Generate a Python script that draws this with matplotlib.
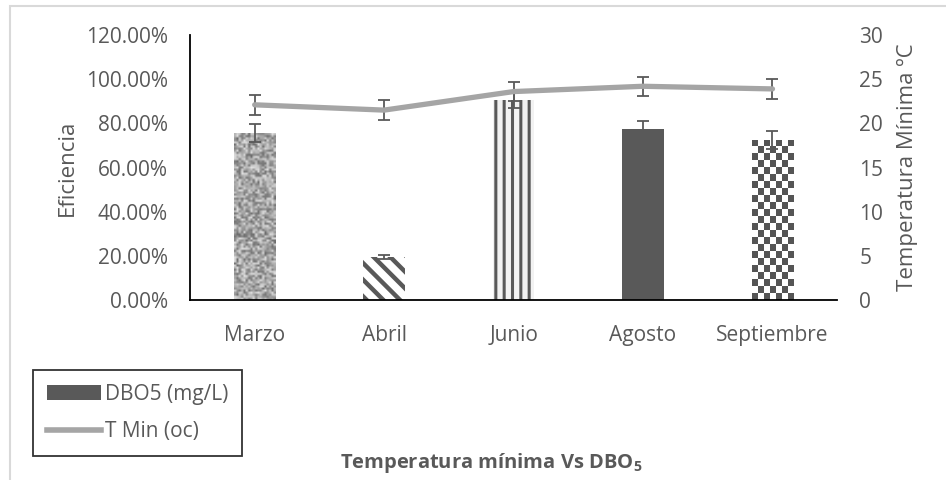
import numpy as np
import matplotlib.pyplot as plt
from matplotlib.patches import Patch, Rectangle
from matplotlib.lines import Line2D
from matplotlib.ticker import FuncFormatter

plt.rcParams['font.family'] = ['Open Sans', 'DejaVu Sans']
plt.rcParams['mathtext.fontset'] = 'custom'
plt.rcParams['mathtext.rm'] = 'Open Sans'
plt.rcParams['mathtext.bf'] = 'Open Sans:bold'

# datos
meses = ['Marzo', 'Abril', 'Junio', 'Agosto', 'Septiembre']
eficiencia = [0.755, 0.195, 0.905, 0.775, 0.725]
err_efic = [0.04, 0.01, 0.035, 0.037, 0.04]
t_min = [22.1, 21.5, 23.6, 24.2, 23.9]
err_t = [1.1, 1.1, 1.1, 1.1, 1.1]

gris = '#595959'
x = np.arange(len(meses))

fig = plt.figure(figsize=(9.46, 4.8), dpi=100)
ax = fig.add_axes([0.2008, 0.375, 0.6842, 0.552])

# estilos de relleno de cada barra: (fondo, trama, color trama, grosor trama)
estilos = [('#bdbdbd', None, gris, 1),
           ('white', '\\\\', gris, 3.2),
           ('#f2f2f2', '||', gris, 2.2),
           (gris, None, gris, 1),
           ('white', None, gris, 1)]
bars = []
for xi, v, (fc, h, hc, hlw) in zip(x, eficiencia, estilos):
    with plt.rc_context({'hatch.linewidth': hlw}):
        b = ax.bar(xi, v, width=0.32, facecolor=fc, edgecolor=hc, linewidth=0,
                   hatch=h, zorder=2)[0]
    bars.append(b)

# textura tipo granito para Marzo
rng = np.random.default_rng(7)
tex = rng.random((80, 18))
b0 = bars[0]
im = ax.imshow(tex, cmap='gray', vmin=-0.9, vmax=1.25, aspect='auto', interpolation='bilinear',
               extent=(b0.get_x(), b0.get_x() + b0.get_width(), 0, b0.get_height()), zorder=2.5)
im.set_clip_path(b0)

# tablero para Septiembre
b4 = bars[4]
filas = int(round(b4.get_height() / 0.032))
tablero = (np.add.outer(np.arange(filas), np.arange(7)) % 2).astype(float)
im2 = ax.imshow(tablero, cmap='gray', vmin=-0.5, vmax=1, aspect='auto', interpolation='nearest',
                extent=(b4.get_x(), b4.get_x() + b4.get_width(), 0, b4.get_height()), zorder=2.5)
im2.set_clip_path(b4)

ax.errorbar(x, eficiencia, yerr=err_efic, fmt='none', ecolor=gris, elinewidth=1.3,
            capsize=4, capthick=1.3, zorder=3)

ax.set_xlim(-0.5, 4.5)
ax.set_ylim(0, 1.2)
ax.set_yticks(np.arange(0, 1.21, 0.2))
ax.yaxis.set_major_formatter(FuncFormatter(lambda v, p: f'{v*100:.2f}%'))
ax.set_xticks(x)
ax.set_xticklabels(meses)
for s in ['top', 'right']:
    ax.spines[s].set_visible(False)
ax.spines['left'].set_linewidth(1.3)
ax.spines['bottom'].set_linewidth(1.3)
ax.tick_params(axis='y', length=0, pad=16, labelsize=15, labelcolor=gris)
ax.tick_params(axis='x', length=0, pad=18, labelsize=15, labelcolor=gris)
ax.set_ylabel('Eficiencia', fontsize=16, color=gris, labelpad=6)

ax2 = ax.twinx()
ax2.plot(x, t_min, color='#a5a5a5', lw=3.8, solid_capstyle='round', zorder=2)
ax2.errorbar(x, t_min, yerr=err_t, fmt='none', ecolor=gris, elinewidth=1.3,
             capsize=4, capthick=1.3, zorder=1)
ax2.set_ylim(0, 30)
ax2.set_yticks(range(0, 31, 5))
for s in ['top', 'right', 'left', 'bottom']:
    ax2.spines[s].set_visible(False)
ax2.tick_params(axis='y', length=0, pad=16, labelsize=15, labelcolor=gris)
ax2.set_ylabel('Temperatura Mínima ºC', fontsize=16, color=gris, labelpad=10)

# leyenda
handles = [Patch(facecolor=gris, edgecolor='none'),
           Line2D([], [], color='#a5a5a5', lw=4)]
leg = fig.legend(handles, ['DBO5 (mg/L)', 'T Min (oc)'], loc='upper left',
                 bbox_to_anchor=(0.035, 0.229), fontsize=15, labelcolor=gris,
                 frameon=True, fancybox=False, edgecolor='black', handlelength=2.6,
                 handleheight=0.7, handletextpad=0.2, borderpad=0.65, labelspacing=0.8,
                 borderaxespad=0)
leg.get_frame().set_linewidth(1.3)

fig.text(0.519, 0.036, r'Temperatura mínima Vs DBO$_\mathbf{5}$', ha='center', va='center',
         fontsize=14.5, fontweight='bold', color=gris)

# borde del area del grafico
fig.patches.append(Rectangle((10 / 946, -0.1), 1.2, 1 - 6 / 480 + 0.1, transform=fig.transFigure,
                             fill=False, edgecolor='#d9d9d9', lw=1.5))

fig.savefig('out.png', dpi=100)
